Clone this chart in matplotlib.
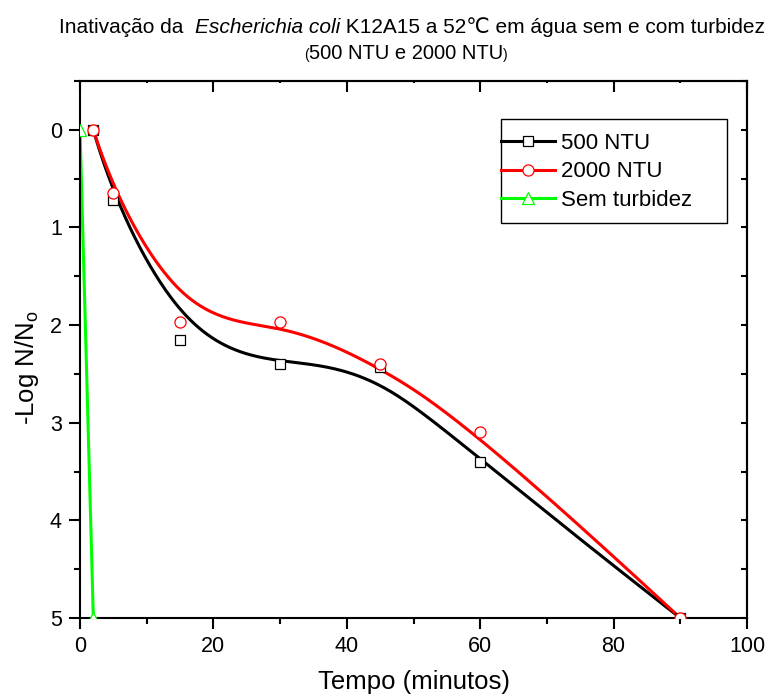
import numpy as np
import matplotlib
matplotlib.use('Agg')
import matplotlib.pyplot as plt
from matplotlib.lines import Line2D
from matplotlib.patches import Rectangle
from matplotlib.ticker import MultipleLocator

plt.rcParams['font.family'] = ['Liberation Sans', 'DejaVu Sans']
plt.rcParams['mathtext.fontset'] = 'custom'
plt.rcParams['mathtext.rm'] = 'Liberation Sans'
plt.rcParams['mathtext.it'] = 'Liberation Sans:italic'

# data
tempo_500 = [2, 5, 15, 30, 45, 60, 90]
log_500 = [0.0, 0.72, 2.15, 2.40, 2.43, 3.40, 5.0]
tempo_2000 = [2, 5, 15, 30, 45, 60, 90]
log_2000 = [0.0, 0.65, 1.97, 1.97, 2.40, 3.10, 5.0]
tempo_sem = [0, 2]
log_sem = [0.0, 5.0]
labels = ['500 NTU', '2000 NTU', 'Sem turbidez']


# B-spline line with the points as control points (Origin "B-Spline" connect)
def bspline(px, py, n=300):
    px = np.asarray(px, float)
    py = np.asarray(py, float)
    m = len(px)
    k = min(3, m - 1)
    knots = np.concatenate([np.zeros(k), np.linspace(0, 1, m - k + 1), np.ones(k)])
    t = np.linspace(0, 1 - 1e-9, n)
    N = np.array([((knots[i] <= t) & (t < knots[i + 1])) for i in range(len(knots) - 1)], float)
    for d in range(1, k + 1):
        newN = np.zeros((len(knots) - 1 - d, len(t)))
        for i in range(len(knots) - 1 - d):
            a = knots[i + d] - knots[i]
            b = knots[i + d + 1] - knots[i + 1]
            left = (t - knots[i]) / a * N[i] if a > 0 else 0
            right = (knots[i + d + 1] - t) / b * N[i + 1] if b > 0 else 0
            newN[i] = left + right
        N = newN
    return N.T @ px, N.T @ py


W, H = 766, 697
fig = plt.figure(figsize=(W / 100, H / 100), dpi=100)
ax = fig.add_axes([80 / W, 1 - 618 / H, 667 / W, 537 / H])

series = [
    (tempo_500, log_500, 'black', 's', 7),
    (tempo_2000, log_2000, '#ff0000', 'o', 8),
    (tempo_sem, log_sem, '#00ff00', '^', 8),
]
handles = []
for (xs, ys, col, mk, ms), lab in zip(series, labels):
    cx, cy = bspline(xs, ys)
    ax.plot(cx, cy, color=col, lw=2.2, zorder=2)
    ax.plot(xs, ys, ls='none', marker=mk, ms=ms, mfc='white', mec=col, mew=0.9, zorder=3)
    handles.append(Line2D([], [], color=col, lw=2.2, marker=mk, ms=ms, mfc='white', mec=col, mew=0.9))

ax.set_xlim(0, 100)
ax.set_ylim(5, -0.5)
ax.xaxis.set_major_locator(MultipleLocator(20))
ax.xaxis.set_minor_locator(MultipleLocator(10))
ax.yaxis.set_major_locator(MultipleLocator(1))
ax.yaxis.set_minor_locator(MultipleLocator(0.5))
ax.tick_params(which='major', direction='out', length=8, width=1.5, labelsize=15.5, pad=5)
ax.tick_params(which='minor', direction='out', length=4.5, width=1.5)
for s in ax.spines.values():
    s.set_linewidth(1.5)

# top/right axes with ticks pointing inward
top = ax.secondary_xaxis('top')
top.xaxis.set_major_locator(MultipleLocator(20))
top.xaxis.set_minor_locator(MultipleLocator(10))
top.tick_params(which='major', direction='in', length=8, width=1.5, labeltop=False)
top.tick_params(which='minor', direction='in', length=1.5, width=1.5)
right = ax.secondary_yaxis('right')
right.yaxis.set_major_locator(MultipleLocator(1))
right.yaxis.set_minor_locator(MultipleLocator(0.5))
right.tick_params(which='both', direction='in', length=4, width=1.5, labelright=False)
for s in list(top.spines.values()) + list(right.spines.values()):
    s.set_linewidth(1.5)

ax.set_xlabel('Tempo (minutos)', fontsize=18.5, labelpad=9)
fig.text(27 / W, 1 - 368 / H, '-Log N/N$_\\mathrm{o}$', rotation=90,
         ha='center', va='center', fontsize=18.5)

# legend box is wider than its content, as in the original
box = Rectangle((501 / W, 1 - 223 / H), 226 / W, 104 / H, transform=fig.transFigure,
                facecolor='white', edgecolor='black', lw=1.0, zorder=4)
ax.add_patch(box)
leg = ax.legend(handles, labels, loc='upper left',
                bbox_to_anchor=((501 - 80) / 667, 1 - (133 - 81) / 537),
                borderaxespad=0, borderpad=0, fontsize=16, handlelength=2.45,
                handletextpad=0.25, labelspacing=0.33, frameon=False)
leg.set_zorder(5)

# title, two lines, with the species name in italics
fig.canvas.draw()
r = fig.canvas.get_renderer()
parts = [('Inativação da  ', 'normal', 15), ('Escherichia coli', 'italic', 15),
         (' K12A15 a 52℃ em água sem e com turbidez', 'normal', 15)]
line2 = [('(', 'normal', 10), ('500 NTU e 2000 NTU', 'normal', 14.5), (')', 'normal', 10)]
for pieces, xc, ybl in [(parts, 412, H - 33), (line2, 406, H - 59)]:
    texts = [fig.text(0, 0, s, fontsize=fs, style=st, va='baseline', transform=None)
             for s, st, fs in pieces]
    widths = [t.get_window_extent(r).width for t in texts]
    x = xc - sum(widths) / 2
    for t, w in zip(texts, widths):
        t.set_position((x, ybl))
        x += w

fig.savefig('out.png', dpi=100)
